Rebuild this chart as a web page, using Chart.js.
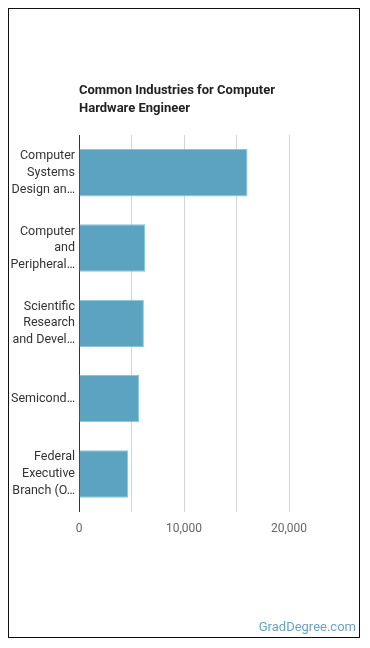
<!DOCTYPE html>
<html>
<head>
<meta charset="utf-8">
<script src="https://cdn.jsdelivr.net/npm/chart.js@4/dist/chart.umd.min.js"></script>
<style>
  body { margin: 0; background: #fff; font-family: Roboto, sans-serif; }
  #frame { position: absolute; left: 8px; top: 8px; width: 352px; height: 630px; box-sizing: border-box; border: 1px solid #111; }
  #wrap { position: absolute; left: 0; top: 0; width: 350px; height: 628px; }
  #credit { position: absolute; right: 3px; bottom: 3px; font-size: 13px; color: #6aa3c3; }
</style>
</head>
<body>
<div id="frame">
  <div id="wrap"><canvas id="grafic"></canvas></div>
  <div id="credit">GradDegree.com</div>
</div>
<script>
// categories as they are shown on the chart (wrapped and cut like the original)
const industries = [
  ['Computer', 'Systems', 'Design an…'],
  ['Computer', 'and', 'Peripheral…'],
  ['Scientific', 'Research', 'and Devel…'],
  'Semicond…',
  ['Federal', 'Executive', 'Branch (O…']
];
const employees = [16050, 6300, 6180, 5730, 4680];
const xTicks = [0, 5000, 10000, 15000, 20000];
const xTicksShown = [0, 10000, 20000];

const ctx = document.getElementById('grafic').getContext('2d');

new Chart(ctx, {
  type: 'bar',
  data: {
    labels: industries,
    datasets: [{
      label: 'Employees',
      data: employees,
      backgroundColor: '#5ba3c1',
      borderColor: '#8cc3da',
      borderWidth: 1,
      barPercentage: 0.63,
      categoryPercentage: 1
    }]
  },
  options: {
    indexAxis: 'y',
    responsive: true,
    maintainAspectRatio: false,
    animation: false,
    layout: { padding: { left: 0, right: 28, top: 0, bottom: 91 } },
    plugins: {
      legend: { display: false },
      tooltip: { enabled: false },
      title: {
        display: true,
        text: ['Common Industries for Computer', 'Hardware Engineer'],
        align: 'start',
        fullSize: false,
        color: '#222',
        font: { family: 'Roboto', size: 13, weight: 'bold', lineHeight: 1.35 },
        padding: { top: 73, bottom: 18 }
      }
    },
    scales: {
      x: {
        min: 0,
        max: 24000,
        afterBuildTicks: s => { s.ticks = xTicks.map(v => ({ value: v })); },
        border: { display: false },
        grid: { color: '#d4d4d4', drawTicks: false },
        ticks: {
          padding: 10,
          color: '#666',
          font: { family: 'Roboto', size: 12 },
          callback: v => xTicksShown.includes(v) ? v.toLocaleString('en-US') : ''
        }
      },
      y: {
        afterFit: s => { s.width = 70; },
        border: { display: true, color: '#333', width: 1 },
        grid: { display: false, drawTicks: false },
        ticks: {
          padding: 4,
          color: '#333',
          font: { family: 'Roboto', size: 12.5, lineHeight: 1.33 }
        }
      }
    }
  }
});
</script>
</body>
</html>
